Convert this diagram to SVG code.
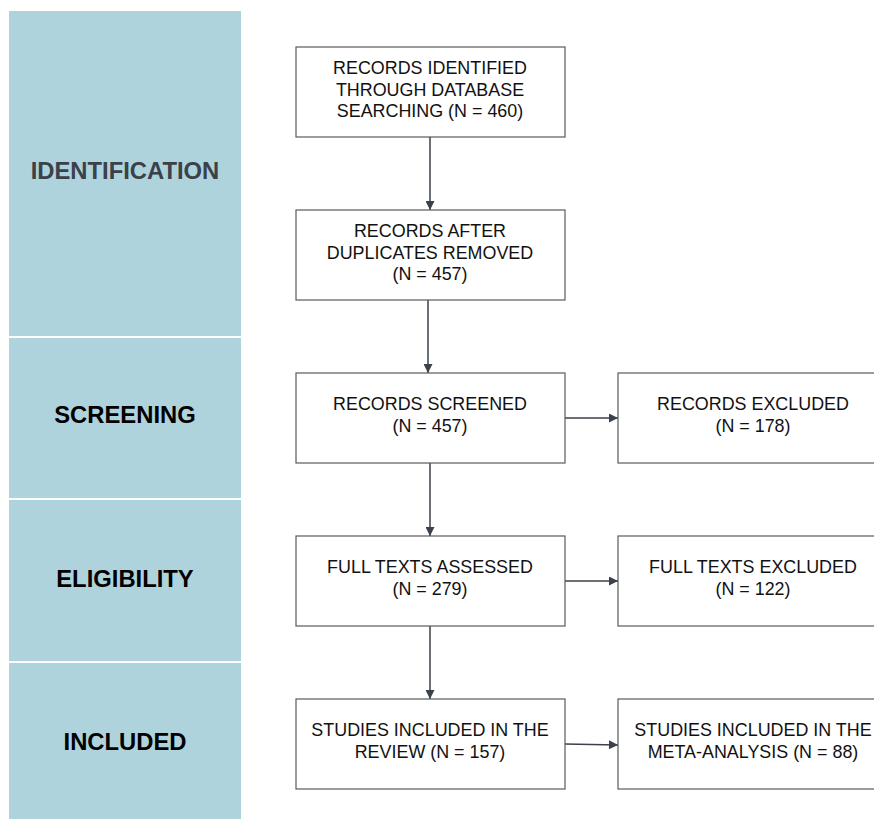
<svg xmlns="http://www.w3.org/2000/svg" width="874" height="819" viewBox="0 0 874 819">
<style>
.band{fill:#afd3dc}
.lbl{font-family:"Liberation Sans",Arial,sans-serif;font-weight:bold;font-size:23.8px;text-anchor:middle;fill:#000}
.box{fill:#fff;stroke:#5a5a5a;stroke-width:1.2}
.t{font-family:"Liberation Sans",Arial,sans-serif;font-size:17.9px;text-anchor:middle;fill:#111}
.c{stroke:#3a414a;stroke-width:1.5;fill:none;marker-end:url(#ah)}
</style>
<defs>
<marker id="ah" viewBox="0 0 10 10" refX="10" refY="5" markerWidth="11" markerHeight="9" markerUnits="userSpaceOnUse" orient="auto">
<path d="M0,0 L10,5 L0,10 z" fill="#3a414a"/>
</marker>
</defs>
<rect width="874" height="819" fill="#fff"/>
<g id="lane-identification"><rect class="band" x="9" y="11" width="232" height="325"/><text class="lbl" x="125" y="179" style="fill:#3a414a">IDENTIFICATION</text></g>
<g id="lane-screening"><rect class="band" x="9" y="338" width="232" height="160"/><text class="lbl" x="125" y="423">SCREENING</text></g>
<g id="lane-eligibility"><rect class="band" x="9" y="500" width="232" height="161"/><text class="lbl" x="125" y="587">ELIGIBILITY</text></g>
<g id="lane-included"><rect class="band" x="9" y="663" width="232" height="156"/><text class="lbl" x="125" y="750">INCLUDED</text></g>

<g id="connectors">
<path class="c" d="M430,137 V210"/>
<path class="c" d="M428,300 V373"/>
<path class="c" d="M430,463 V536"/>
<path class="c" d="M430,626 V699"/>
<path class="c" d="M565,418 H618"/>
<path class="c" d="M565,581 H618"/>
<path class="c" d="M565,744 L618,745"/>
</g>

<g id="n1"><rect class="box" x="296" y="47" width="269" height="90"/><text class="t" x="430" y="74">RECORDS IDENTIFIED</text><text class="t" x="430" y="96">THROUGH DATABASE</text><text class="t" x="430" y="117">SEARCHING (N = 460)</text></g>
<g id="n2"><rect class="box" x="296" y="210" width="269" height="90"/><text class="t" x="430" y="237">RECORDS AFTER</text><text class="t" x="430" y="259">DUPLICATES REMOVED</text><text class="t" x="430" y="280">(N = 457)</text></g>
<g id="n3"><rect class="box" x="296" y="373" width="269" height="90"/><text class="t" x="430" y="410">RECORDS SCREENED</text><text class="t" x="430" y="432">(N = 457)</text></g>
<g id="n4"><rect class="box" x="296" y="536" width="269" height="90"/><text class="t" x="430" y="573">FULL TEXTS ASSESSED</text><text class="t" x="430" y="595">(N = 279)</text></g>
<g id="n5"><rect class="box" x="296" y="699" width="269" height="90"/><text class="t" x="430" y="736">STUDIES INCLUDED IN THE</text><text class="t" x="430" y="758">REVIEW (N = 157)</text></g>
<g id="n6"><rect class="box" x="618" y="373" width="270" height="90"/><text class="t" x="753" y="410">RECORDS EXCLUDED</text><text class="t" x="753" y="432">(N = 178)</text></g>
<g id="n7"><rect class="box" x="618" y="536" width="270" height="90"/><text class="t" x="753" y="573">FULL TEXTS EXCLUDED</text><text class="t" x="753" y="595">(N = 122)</text></g>
<g id="n8"><rect class="box" x="618" y="699" width="270" height="90"/><text class="t" x="753" y="736">STUDIES INCLUDED IN THE</text><text class="t" x="753" y="758">META-ANALYSIS (N = 88)</text></g>
</svg>
